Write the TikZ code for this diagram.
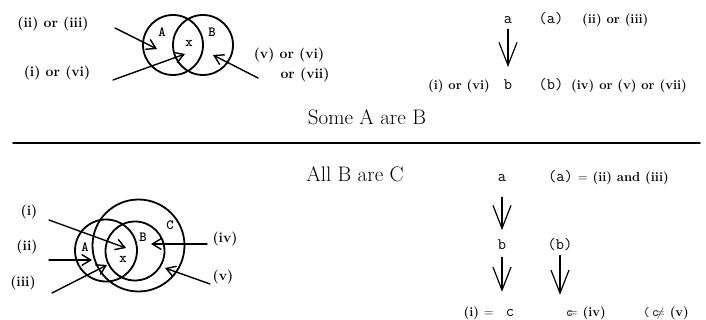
\documentclass[tikz,border=0pt]{standalone}
\usepackage{fontspec}
\usetikzlibrary{arrows.meta}
\tikzset{
  venn/.style={line width=1.8pt},
  pointer/.style={line width=1.4pt,-{Straight Barb[length=9pt,width=11pt,line width=1.4pt]}},
  downarrow/.style={line width=1.2pt,-{Straight Barb[length=23pt,width=18pt,line width=1.2pt]}},
  lbl/.style={font=\fontsize{14}{16}\selectfont\bfseries,inner sep=0pt},
  lblr/.style={font=\fontsize{13}{15}\selectfont\bfseries,inner sep=0pt},
  mono/.style={font=\fontsize{16}{18}\selectfont\ttfamily,inner sep=0pt},
  circlbl/.style={font=\fontsize{14}{16}\selectfont\ttfamily\bfseries,inner sep=0pt},
  heading/.style={font=\fontsize{21}{24}\selectfont,inner sep=0pt,anchor=base},
}
\begin{document}
\begin{tikzpicture}[x=1pt,y=-1pt,line cap=round,line join=round]
\useasboundingbox (0,0) rectangle (706,320);
% Some A are B
\coordinate (cA) at (173,45);
\coordinate (cB) at (203,45);
\draw[venn] (cA) circle[radius=30pt];
\draw[venn] (cB) circle[radius=30pt];
\node[circlbl] (lA) at (162,32) {A};
\node[circlbl] (lB) at (212,32) {B};
\node[circlbl] (lx) at (189,43) {x};
\node[lbl] (p1) at (53,24) {(ii) or (iii)};
\node[lbl] (p2) at (57,73) {(i) or (vi)};
\node[lbl] (p3) at (289,55) {(v) or (vi)};
\node[lbl] (p4) at (305,75) {or (vii)};
\coordinate (s1) at (115,28); \coordinate (e1) at (157,49);
\coordinate (s2) at (113,80); \coordinate (e2) at (185,54);
\coordinate (s3) at (258,78); \coordinate (e3) at (213,55);
\draw[pointer] (s1) -- (e1);
\draw[pointer] (s2) -- (e2);
\draw[pointer] (s3) -- (e3);
\node[mono,anchor=base] (a1) at (508,24) {a};
\node[mono,anchor=base] (a1l) at (551,24) {(a)};
\node[lblr,anchor=base west] (a1t) at (582,24) {(ii) or (iii)};
\node[mono,anchor=base] (b1) at (508,90) {b};
\node[lblr,anchor=base east] (b1s) at (490,90) {(i) or (vi)};
\node[mono,anchor=base] (b1l) at (551,90) {(b)};
\node[lblr,anchor=base west] (b1t) at (571,90) {(iv) or (v) or (vii)};
\draw[downarrow,shorten <=5pt,shorten >=13pt] (a1.south) -- (b1.north);
\node[heading] (t1) at (367,125) {Some A are B};
% separator
\coordinate (m1) at (13,143); \coordinate (m2) at (700,143);
\draw[line width=1.8pt] (m1) -- (m2);
% All B are C
\node[heading] (t2) at (355,182) {All B are C};
\coordinate (cC2) at (138.5,245.5);
\coordinate (cA2) at (106,250.5);
\coordinate (cB2) at (135,251);
\draw[venn] (cC2) circle[radius=46pt];
\draw[venn] (cA2) circle[radius=31pt];
\draw[venn] (cB2) circle[radius=29.5pt];
\node[circlbl] (lA2) at (85,247) {A};
\node[circlbl] (lB2) at (143,237) {B};
\node[circlbl] (lC2) at (170,225) {C};
\node[circlbl] (lx2) at (123,259) {x};
\node[lbl] (q1) at (29,212) {(i)};
\node[lbl] (q2) at (27,247) {(ii)};
\node[lbl] (q3) at (23,283) {(iii)};
\node[lbl] (q4) at (225,239) {(iv)};
\node[lbl] (q5) at (223,277) {(v)};
\coordinate (u1) at (49,220); \coordinate (v1) at (126,248);
\coordinate (u2) at (49,260); \coordinate (v2) at (92,260);
\coordinate (u3) at (52,293); \coordinate (v3) at (107,265);
\coordinate (u4) at (207,244); \coordinate (v4) at (151,244);
\coordinate (u5) at (210,284); \coordinate (v5) at (165,268);
\draw[pointer] (u1) -- (v1);
\draw[pointer] (u2) -- (v2);
\draw[pointer] (u3) -- (v3);
\draw[pointer] (u4) -- (v4);
\draw[pointer] (u5) -- (v5);
\node[mono,anchor=base] (a2) at (502,182) {a};
\node[lblr,anchor=base west] (a2l) at (548,182) {{\mdseries\ttfamily\fontsize{16}{18}\selectfont(a)}\ {\normalfont=} (ii) and (iii)};
\node[mono,anchor=base] (b2) at (502,249) {b};
\node[mono,anchor=base] (b2l) at (560,249) {(b)};
\node[mono,anchor=base] (c2) at (510,316) {c};
\node[lblr,anchor=base east] (c2s) at (494,316) {(i) {\normalfont=}};
\node[lblr,anchor=base west] (c2r) at (566,316) {{\mdseries\ttfamily c}\kern-5pt{\normalfont=}\ (iv)};
\node[lblr,anchor=base west] (c2v) at (643,316) {{\mdseries\ttfamily(\,c}\kern-3pt{\normalfont$\neq$}\ (v)};
\draw[downarrow,shorten <=15pt,shorten >=9pt] (a2.south) -- (b2.north);
\draw[downarrow,shorten <=8pt,shorten >=17pt] (b2.south) -- (b2.south |- c2.north);
\draw[downarrow,shorten <=5pt,shorten >=14pt] (b2l.south) -- (b2l.south |- c2.north);
\end{tikzpicture}
\end{document}
